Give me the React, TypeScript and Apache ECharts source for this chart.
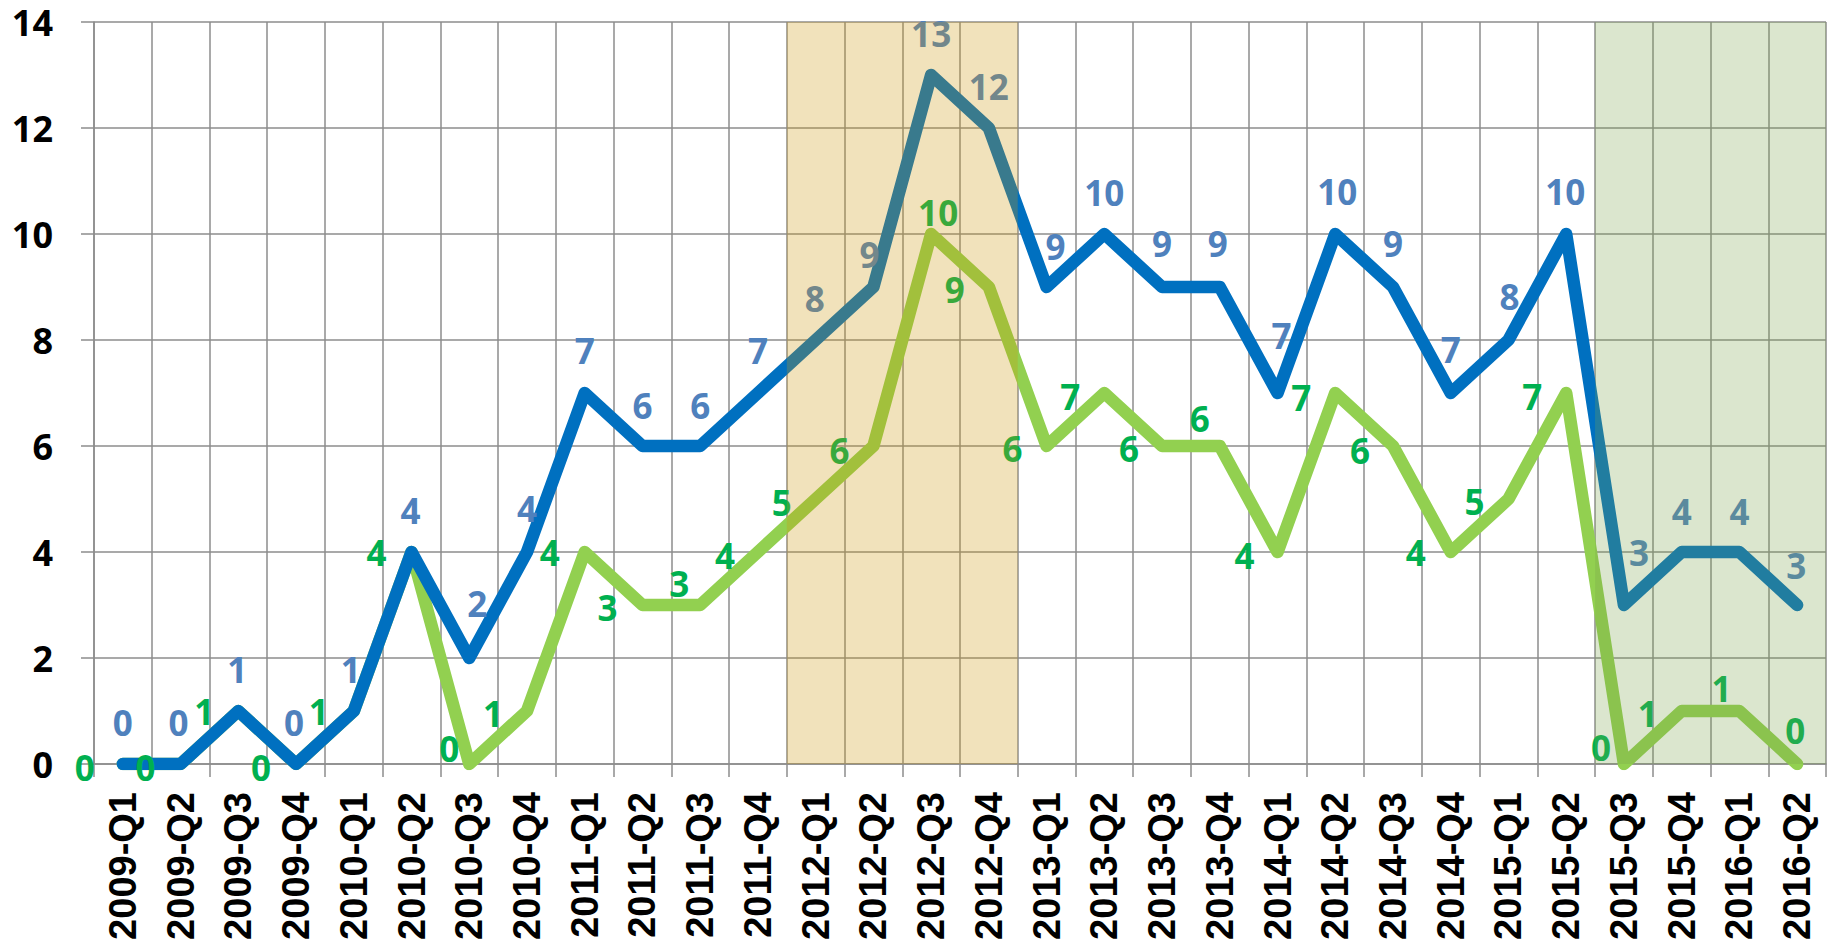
import React, { useEffect, useRef } from "react";
import * as echarts from "echarts";

const categories = [
  "2009-Q1", "2009-Q2", "2009-Q3", "2009-Q4",
  "2010-Q1", "2010-Q2", "2010-Q3", "2010-Q4",
  "2011-Q1", "2011-Q2", "2011-Q3", "2011-Q4",
  "2012-Q1", "2012-Q2", "2012-Q3", "2012-Q4",
  "2013-Q1", "2013-Q2", "2013-Q3", "2013-Q4",
  "2014-Q1", "2014-Q2", "2014-Q3", "2014-Q4",
  "2015-Q1", "2015-Q2", "2015-Q3", "2015-Q4",
  "2016-Q1", "2016-Q2",
];

const blueValues = [0, 0, 1, 0, 1, 4, 2, 4, 7, 6, 6, 7, 8, 9, 13, 12, 9, 10, 9, 9, 7, 10, 9, 7, 8, 10, 3, 4, 4, 3];
const greenValues = [0, 0, 1, 0, 1, 4, 0, 1, 4, 3, 3, 4, 5, 6, 10, 9, 6, 7, 6, 6, 4, 7, 6, 4, 5, 7, 0, 1, 1, 0];

const yMin = 0;
const yMax = 14;
const yInterval = 2;

const highlightStarts = ["2012-Q1", "2015-Q3"];
const highlightEnds = ["2012-Q4", "2016-Q2"];

// label placement (pixel offsets from each point), layout only
const blueLabelOffsets = [
  [0, -42], [-2, -42], [-1, -42], [-2, -42], [-3, -42], [-1, -42], [8, -55], [0, -44],
  [0, -43], [0, -41], [0, -41], [0, -43], [-1, -42], [-4, -33], [0, -42], [0, -42],
  [9, -41], [0, -42], [0, -44], [-2, -44], [4, -58], [2, -43], [0, -44], [0, -44],
  [1, -44], [-1, -43], [15, -53], [0, -41], [0, -41], [-1, -40],
];
const greenLabelOffsets = [
  [-38, 3], [-35, 3], [-34, 0], [-35, 3], [-35, 0], [-35, 0], [-20, -16], [-34, 2],
  [-35, 0], [-35, 2], [-21, -22], [-33, 3], [-34, 3], [-34, 4], [7, -22], [-34, 2],
  [-34, 2], [-34, 3], [-33, 2], [-20, -28], [-33, 3], [-34, 4], [-33, 4], [-35, 0],
  [-34, 2], [-34, 3], [-23, -17], [-34, 2], [-18, -23], [-2, -34],
];

const BLUE_LINE = "#0070c0";
const GREEN_LINE = "#92d050";
const BLUE_LABEL = "#4f81bd";
const GREEN_LABEL = "#00b050";
const GRID = "#8c8c8c";
const highlightFills = ["rgba(204,150,10,0.28)", "rgba(122,163,74,0.27)"];

export default function App() {
  const ref = useRef<HTMLDivElement>(null);

  useEffect(() => {
    if (!ref.current) return;
    const chart = echarts.init(ref.current, null, { renderer: "svg" });

    const labelFont = {
      fontFamily: "'Open Sans', 'Liberation Sans', sans-serif",
      fontWeight: "bold" as const,
      fontSize: 35,
    };

    const regionData = highlightStarts.map((s, i) => [
      categories.indexOf(s),
      categories.indexOf(highlightEnds[i]),
    ]);

    const lineSeries = (name: string, values: number[], color: string, z: number) => ({
      type: "line",
      name,
      data: values,
      symbol: "none",
      lineStyle: { color, width: 12.5, cap: "round", join: "round" },
      itemStyle: { color },
      z,
      silent: true,
    });

    const labelSeries = (
      name: string,
      values: number[],
      offsets: number[][],
      color: string
    ) => ({
      type: "line",
      name,
      data: values.map((v, i) => ({ value: v, label: { offset: offsets[i] } })),
      symbol: "circle",
      symbolSize: 1,
      showSymbol: true,
      lineStyle: { width: 0, opacity: 0 },
      itemStyle: { color: "transparent" },
      label: {
        show: true,
        position: "inside",
        color,
        ...labelFont,
      },
      z: 5,
      silent: true,
    });

    chart.setOption({
      animation: false,
      backgroundColor: "#ffffff",
      grid: { left: 94, right: 9, top: 22, bottom: 180, containLabel: false },
      xAxis: {
        type: "category",
        data: categories,
        boundaryGap: true,
        axisLine: { show: true, lineStyle: { color: GRID, width: 1.5 } },
        axisTick: { show: true, length: 13, lineStyle: { color: GRID, width: 1.5 } },
        splitLine: { show: true, lineStyle: { color: GRID, width: 1.5 } },
        axisLabel: {
          interval: 0,
          rotate: 90,
          margin: 28,
          color: "#000",
          fontFamily: "'Liberation Sans', Arial, sans-serif",
          fontWeight: "bold",
          fontSize: 38,
        },
      },
      yAxis: {
        type: "value",
        min: yMin,
        max: yMax,
        interval: yInterval,
        axisLine: { show: true, lineStyle: { color: GRID, width: 1.5 } },
        axisTick: { show: true, length: 13, lineStyle: { color: GRID, width: 1.5 } },
        splitLine: { show: true, lineStyle: { color: GRID, width: 1.5 } },
        axisLabel: {
          margin: 41,
          color: "#000",
          ...labelFont,
          fontSize: 36,
          lineHeight: 30,
        },
      },
      series: [
        lineSeries("green", greenValues, GREEN_LINE, 2),
        lineSeries("blue", blueValues, BLUE_LINE, 3),
        labelSeries("greenLabels", greenValues, greenLabelOffsets, GREEN_LABEL),
        labelSeries("blueLabels", blueValues, blueLabelOffsets, BLUE_LABEL),
        {
          type: "custom",
          name: "highlight",
          data: regionData,
          encode: { x: [0, 1] },
          z: 10,
          silent: true,
          clip: false,
          renderItem: (params: any, api: any) => {
            const s = api.value(0);
            const e = api.value(1);
            const bw = api.size([1, 0])[0];
            const x0 = api.coord([s, yMin])[0] - bw / 2;
            const x1 = api.coord([e, yMin])[0] + bw / 2;
            const cs = params.coordSys;
            return {
              type: "rect",
              shape: { x: x0, y: cs.y, width: x1 - x0, height: cs.height },
              style: { fill: highlightFills[params.dataIndex] },
            };
          },
        },
      ],
    });

    return () => chart.dispose();
  }, []);

  return (
    <div
      ref={ref}
      style={{ position: "absolute", left: 0, top: 0, width: 1835, height: 944, background: "#fff" }}
    />
  );
}
